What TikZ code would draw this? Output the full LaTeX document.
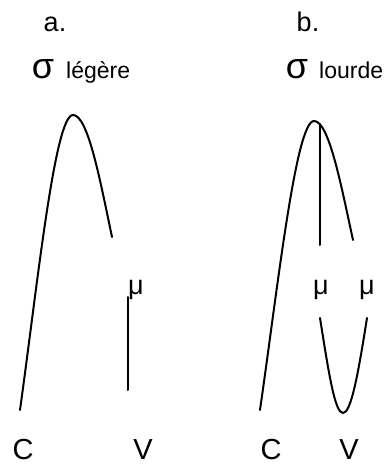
\documentclass[tikz,border=0pt]{standalone}
\usepackage{fontspec}
\setmainfont{Liberation Sans}
\tikzset{
  lbl/.style={inner sep=0pt, anchor=base, font=\fontsize{27}{29}\selectfont},
  sig/.style={inner sep=0pt, anchor=base, font=\fontsize{36}{38}\selectfont},
  small/.style={inner sep=0pt, anchor=base west, font=\fontsize{23}{25}\selectfont},
  big/.style={inner sep=0pt, anchor=base, font=\fontsize{29}{31}\selectfont},
  seg/.style={line width=2pt, line cap=round}
}
\begin{document}
\begin{tikzpicture}[x=1pt,y=-1pt]
\useasboundingbox (0,0) rectangle (387,465);
% headings
\node[lbl] (a) at (55,32) {a.};
\node[lbl] (b) at (308,32) {b.};
\node[sig] (s1) at (43,79) {σ};
\node[small] (l1) at (66,79) {légère};
\node[sig] (s2) at (297,79) {σ};
\node[small] (l2) at (319,79) {lourde};
% mu
\node[lbl] (m1) at (136,294) {μ};
\node[lbl] (m2) at (321,294) {μ};
\node[lbl] (m3) at (367,294) {μ};
% C V
\node[big] (c1) at (23,459) {C};
\node[big] (v1) at (143,459) {V};
\node[big] (c2) at (271,459) {C};
\node[big] (v2) at (349,459) {V};
% left panel coordinates
\coordinate (aC) at (20,410);
\coordinate (aP) at (73,115);
\coordinate (aE) at (112,237);
\coordinate (aT) at (128,297);
\coordinate (aB) at (128,390);
\draw[seg] (aC) .. controls (38,280) and (55,115) .. (aP)
            .. controls (88,115) and (100,180) .. (aE);
\draw[seg] (aT) -- (aB);
% right panel coordinates
\coordinate (bC) at (260,410);
\coordinate (bP) at (314,121);
\coordinate (bE) at (353,240);
\coordinate (bT) at (320,124);
\coordinate (bB) at (320,245);
\coordinate (bL) at (320,318);
\coordinate (bV) at (343,413);
\coordinate (bR) at (367,318);
\draw[seg] (bC) .. controls (278,285) and (296,121) .. (bP)
            .. controls (329,121) and (341,185) .. (bE);
\draw[seg] (bT) -- (bB);
\draw[seg] (bL) .. controls (329,375) and (335,413) .. (bV)
            .. controls (351,413) and (358,375) .. (bR);
\end{tikzpicture}
\end{document}
